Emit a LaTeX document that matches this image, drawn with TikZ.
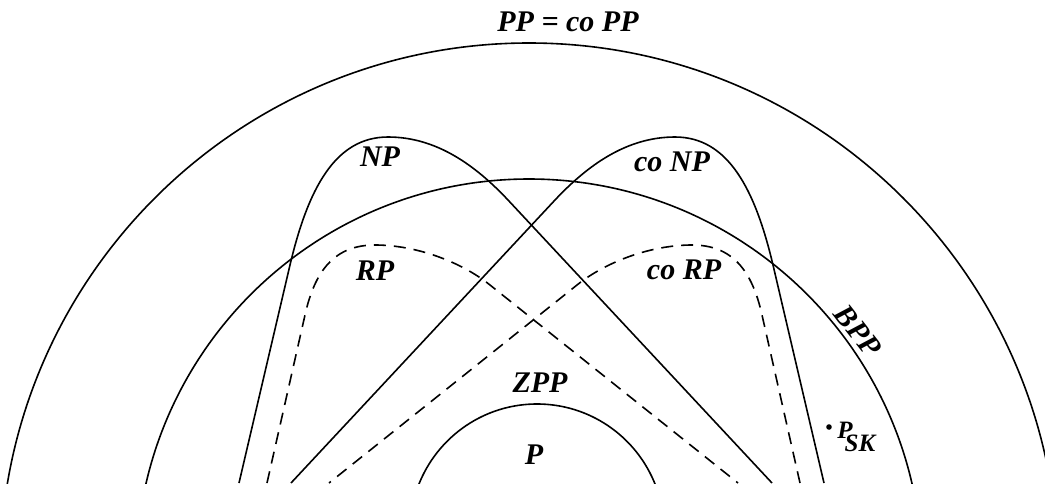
\documentclass[tikz,border=0pt]{standalone}
\usepackage{fontspec}
\setmainfont{Liberation Serif}
\usetikzlibrary{positioning}

\begin{document}
\begin{tikzpicture}[x=0.5pt, y=-0.5pt,
    cls/.style={line width=0.8pt},
    rnd/.style={cls, dash pattern=on 6pt off 4pt},
    lbl/.style={font=\fontsize{15}{18}\selectfont\bfseries\itshape,
                inner sep=0pt},
]
  \useasboundingbox (0,0) rectangle (1045,483);
  \clip (0,0) rectangle (1045,483);

  % PP, BPP and P
  \draw[cls] (529,572) circle[radius=264.5pt];
  \draw[cls] (529,572) circle[radius=196.5pt];
  \draw[cls] (537,531) circle[radius=63.5pt];

  % NP and co NP
  \draw[cls] (239,483) -- (290,265)
    .. controls (308,189) and (335,137) .. (388,137)
    .. controls (437,137) and (476,166) .. (508,200) -- (772,483);
  \draw[cls] (824,483) -- (773,265)
    .. controls (755,189) and (728,137) .. (675,137)
    .. controls (626,137) and (587,166) .. (555,200) -- (291,483);

  % RP and co RP
  \draw[rnd] (267,483) -- (305,315)
    .. controls (315,270) and (335,245) .. (375,245)
    .. controls (415,245) and (460,261) .. (490,285) -- (738,483);
  \draw[rnd] (800,483) -- (762,315)
    .. controls (752,270) and (732,245) .. (692,245)
    .. controls (652,245) and (607,261) .. (577,285) -- (329,483);

  % labels
  \node[lbl] (pp)   at (568,22)  {PP = co PP};
  \node[lbl] (np)   at (380,157) {NP};
  \node[lbl] (conp) at (672,162) {co NP};
  \node[lbl] (rp)   at (375,271) {RP};
  \node[lbl] (corp) at (684,270) {co RP};
  \node[lbl] (zpp)  at (540,383) {ZPP};
  \node[lbl] (p)    at (534,455) {P};
  \node[lbl, rotate=-52] (bpp) at (858,331) {BPP};

  % P_SK
  \fill (829,427) circle[radius=1.4pt];
  \node[lbl, font=\fontsize{12.5}{15}\selectfont\bfseries\itshape,
        anchor=base west] (psk) at (837,438)
    {P\kern-4pt\raisebox{-6.5pt}{SK}};
\end{tikzpicture}
\end{document}
